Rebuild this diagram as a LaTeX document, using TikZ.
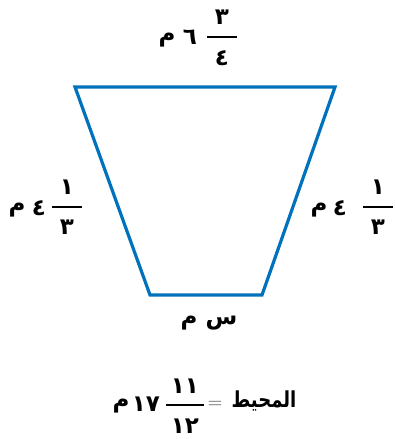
\documentclass[tikz,border=0pt]{standalone}
\usepackage{fontspec}
\newfontfamily\arabicfont[Script=Arabic]{DejaVu Sans}
\TeXXeTstate=1
\definecolor{trapblue}{RGB}{0,114,188}

\begin{document}
\begin{tikzpicture}[x=1pt, y=-1pt,
        every node/.style={font=\arabicfont\bfseries\fontsize{23}{28}\selectfont, inner sep=0pt},
        side/.style={draw=trapblue, line width=3.2pt, line join=miter},
        bar/.style={line width=2.6pt}]
        \useasboundingbox (0,0) rectangle (395,439);

        % the trapezoid
        \coordinate (tl) at (75,87);
        \coordinate (tr) at (335,87);
        \coordinate (br) at (262,295);
        \coordinate (bl) at (150,295);
        \draw[side] (tl) -- (tr) -- (br) -- (bl) -- cycle;

        % top side
        \node (t3) at (222,17) {٣};
        \node (t4) at (222,58) {٤};
        \coordinate (ta) at (207,37);
        \coordinate (tb) at (237,37);
        \draw[bar] (ta) -- (tb);
        \node (t6) at (190,37) {٦};
        \node (tm) at (167,40) {\beginR م\endR};

        % left side
        \node (l1) at (67,187) {١};
        \node (l3) at (67,227) {٣};
        \coordinate (la) at (52,207);
        \coordinate (lb) at (82,207);
        \draw[bar] (la) -- (lb);
        \node (l4) at (39,208) {٤};
        \node (lm) at (17,210) {\beginR م\endR};

        % right side
        \node (r1) at (378,187) {١};
        \node (r3) at (378,227) {٣};
        \coordinate (ra) at (363,207);
        \coordinate (rb) at (393,207);
        \draw[bar] (ra) -- (rb);
        \node (r4) at (340,208) {٤};
        \node (rm) at (319,210) {\beginR م\endR};

        % bottom side
        \node (bx) at (209,323) {\beginR س م\endR};

        % perimeter
        \node (pm) at (121,406) {\beginR م\endR};
        \node (p17) at (146,404) {١٧};
        \node (p11) at (185,386) {١١};
        \node (p12) at (185,426) {١٢};
        \coordinate (pa) at (166,405);
        \coordinate (pb) at (204,405);
        \draw[bar] (pa) -- (pb);
        \node[font=\fontsize{20}{24}\selectfont, text=black!70] (peq) at (215,405) {=};
        \node[font=\arabicfont\bfseries\fontsize{22}{26}\selectfont, transform shape, xscale=0.82] (pw) at (264,401) {\beginR المحيط\endR};
\end{tikzpicture}
\end{document}
